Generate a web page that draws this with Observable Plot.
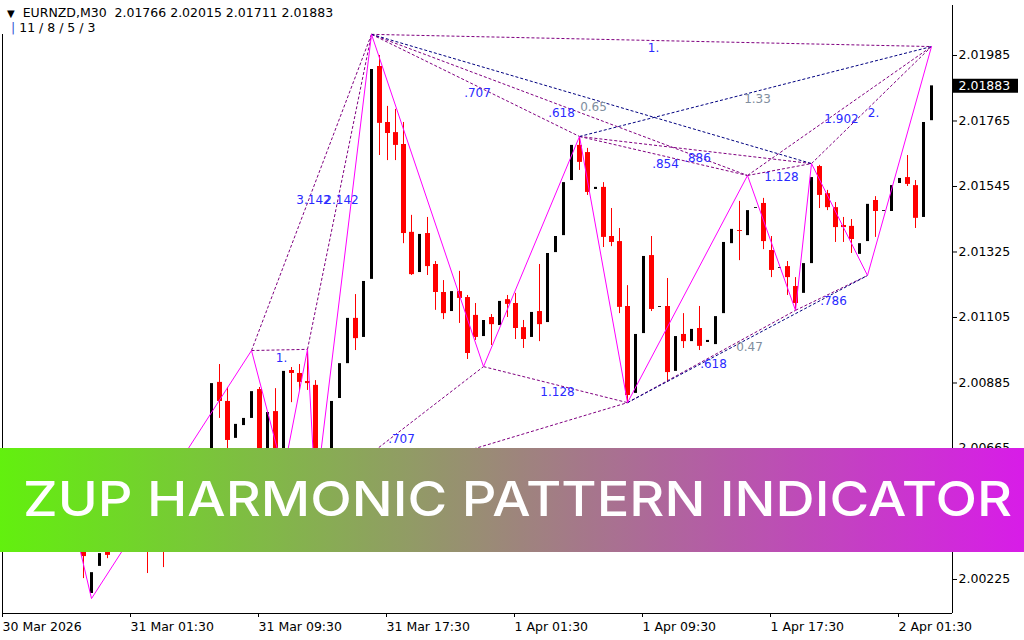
<!DOCTYPE html>
<html>
<head>
<meta charset="utf-8">
<script src="https://cdn.jsdelivr.net/npm/d3@7"></script>
<script src="https://cdn.jsdelivr.net/npm/@observablehq/plot@0.6"></script>
<style>
  html, body { margin: 0; padding: 0; background: #fff; }
  #wrap { position: relative; width: 1024px; height: 640px; overflow: hidden; font-family: "DejaVu Sans", sans-serif; }
  #hdr { position: absolute; left: 0; top: 0; width: 342px; height: 34px; background: #fff; font-size: 12.5px; color: #000; white-space: pre; }
  #hdr .l1 { position: absolute; left: 7px; top: 5px; }
  #hdr .l2 { position: absolute; left: 11px; top: 20px; }
  #hdr .tri { font-size: 10px; }
  #hdr .bar { color: #2f55d4; }
  #banner { position: absolute; left: 0; top: 448px; }
</style>
</head>
<body>
<div id="wrap">
  <div id="chart"></div>
  <div id="hdr"><div class="l1"><span class="tri">▼</span>  EURNZD,M30  2.01766 2.02015 2.01711 2.01883</div><div class="l2"><span class="bar">|</span> 11 / 8 / 5 / 3</div></div>
  <svg id="banner" width="1024" height="104" xmlns="http://www.w3.org/2000/svg">
    <defs>
      <linearGradient id="bg" x1="0" y1="0" x2="1" y2="0">
        <stop offset="0" stop-color="#62f00e"/>
        <stop offset="1" stop-color="#d81ce8"/>
      </linearGradient>
    </defs>
    <rect x="0" y="0" width="1024" height="104" fill="url(#bg)"/>
    <text x="23" y="68" fill="#ffffff" font-family="Inter, 'Open Sans', sans-serif" font-weight="500" font-size="48" textLength="989" lengthAdjust="spacingAndGlyphs">ZUP HARMONIC PATTERN INDICATOR</text>
  </svg>
</div>
<script>
// ---- Candle data (EURNZD, M30), bar index 0..116 ----
const open = [
  2.00557, 2.00490, 2.00440, 2.00473, 2.00517, 2.00551, 2.00507, 2.00564, 2.00584, 2.00490,
  2.00339, 2.00178, 2.00269, 2.00322, 2.00322, 2.00396, 2.00457, 2.00416, 2.00490, 2.00396,
  2.00507, 2.00440, 2.00557, 2.00604, 2.00531, 2.00618, 2.00591, 2.00887, 2.00823, 2.00699,
  2.00742, 2.00766, 2.00863, 2.00591, 2.00789, 2.00608, 2.00927, 2.00917, 2.00890, 2.00877,
  2.00524, 2.00641, 2.00833, 2.00950, 2.01102, 2.01038, 2.01233, 2.01948, 2.01760, 2.01726,
  2.01686, 2.01391, 2.01256, 2.01387, 2.01283, 2.01189, 2.01125, 2.01192, 2.01172, 2.01112,
  2.01041, 2.01105, 2.01078, 2.01165, 2.01152, 2.01071, 2.01038, 2.01125, 2.01088, 2.01323,
  2.01380, 2.01565, 2.01683, 2.01659, 2.01535, 2.01542, 2.01377, 2.01360, 2.01142, 2.00850,
  2.01051, 2.01313, 2.01139, 2.01142, 2.00924, 2.01048, 2.01024, 2.01068, 2.01021, 2.01014,
  2.01118, 2.01353, 2.01397, 2.01380, 2.01471, 2.01488, 2.01330, 2.01270, 2.01276, 2.01209,
  2.01186, 2.01286, 2.01612, 2.01521, 2.01474, 2.01414, 2.01411, 2.01317, 2.01360, 2.01498,
  2.01461, 2.01461, 2.01555, 2.01575, 2.01548, 2.01441, 2.01766
];
const high = [
  2.00591, 2.00524, 2.00507, 2.00541, 2.00574, 2.00564, 2.00598, 2.00618, 2.00591, 2.00507,
  2.00356, 2.00289, 2.00322, 2.00339, 2.00423, 2.00473, 2.00490, 2.00507, 2.00524, 2.00541,
  2.00557, 2.00591, 2.00625, 2.00641, 2.00658, 2.00675, 2.00893, 2.00947, 2.00870, 2.00752,
  2.00772, 2.00994, 2.00870, 2.00793, 2.00866, 2.00930, 2.00937, 2.00947, 2.00998, 2.00893,
  2.00641, 2.00833, 2.00961, 2.01108, 2.01182, 2.01233, 2.02056, 2.01985, 2.01814, 2.01804,
  2.01760, 2.01448, 2.01391, 2.01441, 2.01293, 2.01229, 2.01199, 2.01260, 2.01179, 2.01152,
  2.01102, 2.01115, 2.01165, 2.01179, 2.01186, 2.01095, 2.01129, 2.01283, 2.01327, 2.01384,
  2.01565, 2.01689, 2.01713, 2.01673, 2.01545, 2.01558, 2.01471, 2.01404, 2.01212, 2.01058,
  2.01317, 2.01377, 2.01149, 2.01236, 2.01048, 2.01118, 2.01071, 2.01142, 2.01041, 2.01115,
  2.01364, 2.01407, 2.01495, 2.01582, 2.01481, 2.01505, 2.01377, 2.01280, 2.01293, 2.01239,
  2.01293, 2.01622, 2.01616, 2.01532, 2.01491, 2.01441, 2.01434, 2.01360, 2.01491, 2.01511,
  2.01471, 2.01555, 2.01579, 2.01649, 2.01565, 2.01766, 2.02015
];
const low = [
  2.00457, 2.00406, 2.00423, 2.00457, 2.00490, 2.00473, 2.00490, 2.00541, 2.00463, 2.00356,
  2.00228, 2.00161, 2.00255, 2.00295, 2.00306, 2.00373, 2.00390, 2.00396, 2.00245, 2.00383,
  2.00265, 2.00423, 2.00541, 2.00507, 2.00517, 2.00591, 2.00574, 2.00766, 2.00641, 2.00692,
  2.00735, 2.00759, 2.00598, 2.00574, 2.00598, 2.00584, 2.00819, 2.00860, 2.00860, 2.00504,
  2.00507, 2.00625, 2.00826, 2.00944, 2.00994, 2.01028, 2.01226, 2.01649, 2.01632, 2.01632,
  2.01353, 2.01246, 2.01249, 2.01246, 2.01129, 2.01098, 2.01118, 2.01085, 2.00964, 2.01028,
  2.00940, 2.01011, 2.01071, 2.01105, 2.01031, 2.01001, 2.01031, 2.01024, 2.01081, 2.01317,
  2.01374, 2.01558, 2.01599, 2.01515, 2.01528, 2.01340, 2.01343, 2.01118, 2.00819, 2.00840,
  2.01045, 2.01125, 2.01132, 2.00887, 2.00917, 2.01001, 2.01018, 2.00994, 2.01011, 2.01008,
  2.01112, 2.01347, 2.01296, 2.01374, 2.01464, 2.01333, 2.01239, 2.01263, 2.01179, 2.01129,
  2.01179, 2.01280, 2.01471, 2.01464, 2.01357, 2.01357, 2.01320, 2.01310, 2.01246, 2.01374,
  2.01454, 2.01454, 2.01548, 2.01545, 2.01404, 2.01434, 2.01711
];
const close = [
  2.00490, 2.00440, 2.00473, 2.00524, 2.00557, 2.00507, 2.00574, 2.00591, 2.00490, 2.00390,
  2.00302, 2.00248, 2.00312, 2.00306, 2.00406, 2.00457, 2.00423, 2.00490, 2.00390, 2.00507,
  2.00440, 2.00564, 2.00608, 2.00524, 2.00625, 2.00651, 2.00883, 2.00823, 2.00692, 2.00746,
  2.00766, 2.00856, 2.00608, 2.00786, 2.00608, 2.00924, 2.00917, 2.00887, 2.00883, 2.00541,
  2.00625, 2.00823, 2.00950, 2.01102, 2.01034, 2.01226, 2.01938, 2.01757, 2.01723, 2.01683,
  2.01387, 2.01249, 2.01384, 2.01276, 2.01189, 2.01118, 2.01192, 2.01169, 2.00984, 2.01038,
  2.01095, 2.01081, 2.01159, 2.01149, 2.01068, 2.01031, 2.01122, 2.01081, 2.01320, 2.01377,
  2.01558, 2.01683, 2.01626, 2.01525, 2.01542, 2.01374, 2.01357, 2.01139, 2.00843, 2.01048,
  2.01310, 2.01132, 2.01142, 2.00920, 2.01041, 2.01024, 2.01065, 2.01008, 2.01028, 2.01108,
  2.01357, 2.01401, 2.01394, 2.01464, 2.01474, 2.01360, 2.01263, 2.01273, 2.01239, 2.01152,
  2.01286, 2.01575, 2.01515, 2.01474, 2.01407, 2.01407, 2.01367, 2.01353, 2.01485, 2.01461,
  2.01464, 2.01548, 2.01572, 2.01552, 2.01438, 2.01760, 2.01883
];

// ---- ZigZag pivots (bar index + high/low side) ----
const pivotBar  = [7, 11, 31, 35, 38, 39, 46, 60, 72, 78, 93, 99, 101, 108, 116];
const pivotSide = ["H","L","H","L","H","L","H","L","H","L","H","L","H","L","H"];

// ---- Harmonic ratio lines between pivots ----
const linkFrom  = [2, 2, 4, 5, 7, 5, 6, 6, 6, 6, 8, 8, 8, 10, 10, 12, 9, 9, 11];
const linkTo    = [4, 6, 6, 7, 9, 9, 8, 10, 12, 14, 10, 12, 14, 12, 14, 14, 11, 13, 13];
const linkLabel = ["1.", "3.142", "2.142", ".707", "1.128", "", ".707", ".618", "0.65", "1.",
                   ".854", ".886", "1.33", "1.128", "1.902", "2.", ".618", "0.47", ".786"];
const linkKind  = ["p","p","p","p","p","p","p","p","n","p","p","p","n","p","p","p","p","n","p"];

// ---- Axis ticks ----
const yTicks  = [2.01985, 2.01765, 2.01545, 2.01325, 2.01105, 2.00885, 2.00665, 2.00445, 2.00225];
const xTicks  = [0, 16, 32, 48, 64, 80, 96, 112];
const xLabels = ["30 Mar 2026", "31 Mar 01:30", "31 Mar 09:30", "31 Mar 17:30",
                 "1 Apr 01:30", "1 Apr 09:30", "1 Apr 17:30", "2 Apr 01:30"];

// ---- Build tables ----
const candles = open.map((o, i) => ({i, o, h: high[i], l: low[i], c: close[i]}));
const up = candles.filter(d => d.c >= d.o);
const down = candles.filter(d => d.c < d.o);
const piv = pivotBar.map((b, j) => ({x: b, y: pivotSide[j] === "H" ? high[b] : low[b]}));
const links = linkFrom.map((f, j) => ({
  x1: piv[f].x, y1: piv[f].y, x2: piv[linkTo[j]].x, y2: piv[linkTo[j]].y,
  label: linkLabel[j], kind: linkKind[j]
}));
const purple = links.filter(d => d.kind === "p");
const navy = links.filter(d => d.kind === "n");
const lastClose = close[close.length - 1];
const midX = d => (d.x1 + d.x2) / 2;
const midY = d => (d.y1 + d.y2) / 2;

const chart = Plot.plot({
  width: 1024,
  height: 640,
  marginLeft: 2,
  marginRight: 72,
  marginTop: 5,
  marginBottom: 27,
  x: {domain: [0, 116], range: [3, 931], axis: null},
  y: {domain: [2.001108, 2.021529], axis: null},
  style: {background: "#fff", color: "#000", fontFamily: "DejaVu Sans, sans-serif", fontSize: "12.5px"},
  marks: [
    // candle wicks
    Plot.ruleX(down, {x: "i", y1: "l", y2: "h", stroke: "#ff0000", strokeWidth: 1}),
    Plot.ruleX(up, {x: "i", y1: "l", y2: "h", stroke: "#ffffff", strokeWidth: 1}),
    // candle bodies
    Plot.ruleX(down, {x: "i", y1: "o", y2: "c", stroke: "#ff0000", strokeWidth: 5, strokeLinecap: "butt"}),
    Plot.ruleX(up, {x: "i", y1: "o", y2: "c", stroke: "#000000", strokeWidth: 3, strokeLinecap: "butt"}),
    // ratio lines
    Plot.link(purple, {x1: "x1", y1: "y1", x2: "x2", y2: "y2", stroke: "#800080", strokeWidth: 1, strokeDasharray: "3,2"}),
    Plot.link(navy, {x1: "x1", y1: "y1", x2: "x2", y2: "y2", stroke: "#000080", strokeWidth: 1, strokeDasharray: "3,2"}),
    // zigzag
    Plot.line(piv, {x: "x", y: "y", stroke: "#ff00ff", strokeWidth: 1}),
    // ratio labels
    Plot.text(purple.filter(d => d.label), {x: midX, y: midY, text: "label", dx: 2, dy: 8, fill: "#2a2aff", fontSize: 12}),
    Plot.text(navy.filter(d => d.label), {x: midX, y: midY, text: "label", dx: 2, dy: 8, fill: "#7f8e9e", fontSize: 12}),
    // frame edges
    Plot.ruleY([2.001108], {stroke: "#000"}),
    Plot.ruleX([0], {stroke: "#000", dx: -1}),
    Plot.ruleX([116], {stroke: "#000", dx: 21}),
    // axes
    Plot.axisY({anchor: "right", ticks: yTicks, tickFormat: d => d.toFixed(5), tickSize: 4, tickPadding: 2, fill: "#000"}),
    Plot.axisX({anchor: "bottom", ticks: xTicks, tickFormat: d => xLabels[xTicks.indexOf(d)], tickSize: 4, tickPadding: 5, textAnchor: "start", dx: -1, fill: "#000"}),
    // current price tag
    Plot.ruleY([lastClose], {stroke: "#000", strokeWidth: 14, insetLeft: 951, insetRight: -66}),
    Plot.text([lastClose], {y: d => d, frameAnchor: "right", dx: 6, textAnchor: "start", fill: "#fff", text: d => d.toFixed(5)})
  ]
});
document.getElementById("chart").appendChild(chart);
</script>
</body>
</html>
